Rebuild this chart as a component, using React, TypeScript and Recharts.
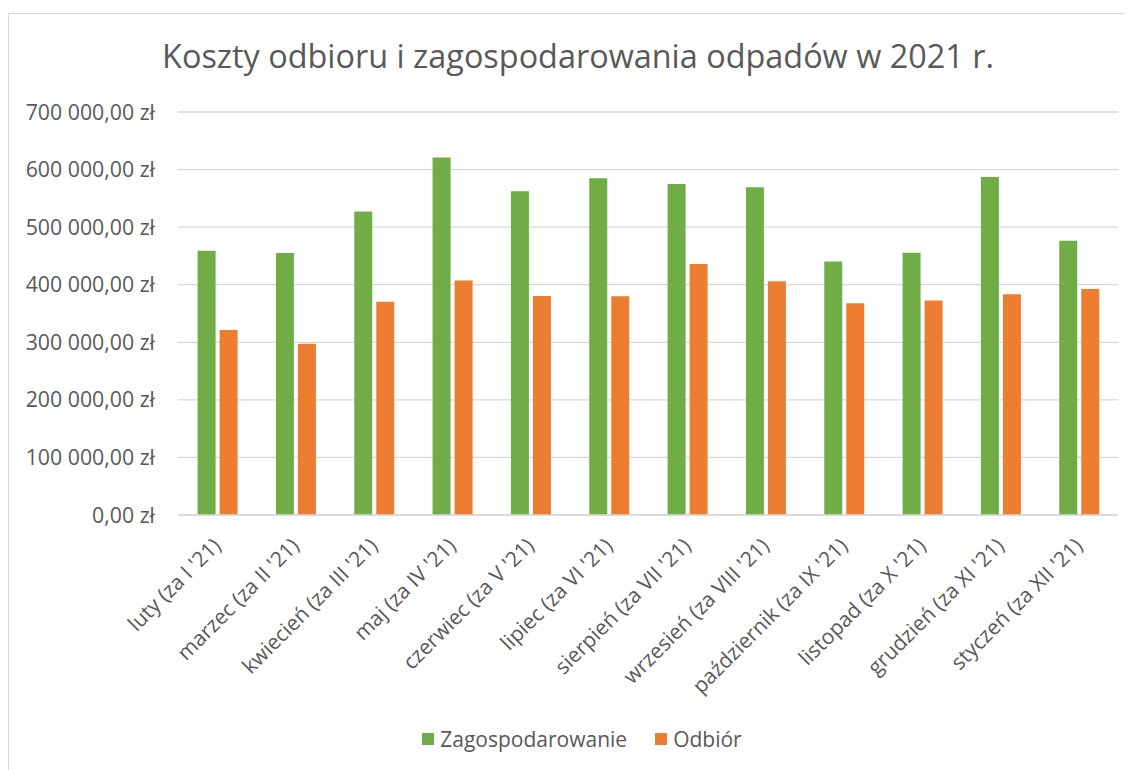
import React from 'react';
import { BarChart, Bar, XAxis, YAxis, CartesianGrid, Legend } from 'recharts';

const months = [
    "luty (za I '21)",
    "marzec (za II '21)",
    "kwiecień (za III '21)",
    "maj (za IV '21)",
    "czerwiec (za V '21)",
    "lipiec (za VI '21)",
    "sierpień (za VII '21)",
    "wrzesień (za VIII '21)",
    "październik (za IX '21)",
    "listopad (za X '21)",
    "grudzień (za XI '21)",
    "styczeń (za XII '21)",
];

const zagospodarowanie = [459000, 455000, 527000, 621000, 562500, 585000, 575000, 569500, 440500, 455500, 587000, 476500];
const odbior = [321500, 297500, 370500, 407500, 380500, 380000, 436000, 406000, 368000, 372500, 383500, 392500];

const yTicks = [0, 100000, 200000, 300000, 400000, 500000, 600000, 700000];

const seriesOrder = ['Zagospodarowanie', 'Odbiór'];

const FONT = '"Open Sans", sans-serif';
const TEXT = '#595959';
const GREEN = '#70AD47';
const ORANGE = '#ED7D31';

const chartData = months.map((m, i) => ({
    name: m,
    zagospodarowanie: zagospodarowanie[i],
    odbior: odbior[i],
}));

const formatZl = (v: number): string =>
    String(v).replace(/\B(?=(\d{3})+(?!\d))/g, ' ') + ',00 zł';

const XTick = (props: any) => {
    const { x, y, payload } = props;
    return (
        <g transform={`translate(${x + 5},${y + 30}) rotate(-45)`}>
            <text x={0} y={0} textAnchor="end" fill={TEXT} fontSize={21} fontFamily={FONT}>
                {payload.value}
            </text>
        </g>
    );
};

const LegendContent = (props: any) => {
    const items = [...(props.payload || [])].sort(
        (a: any, b: any) => seriesOrder.indexOf(a.value) - seriesOrder.indexOf(b.value)
    );
    return (
        <div style={{ display: 'flex', justifyContent: 'center', gap: 28, fontFamily: FONT, fontSize: 21, color: TEXT }}>
            {items.map((item: any) => (
                <div key={item.value} style={{ display: 'flex', alignItems: 'center' }}>
                    <span style={{ display: 'inline-block', width: 12, height: 12, background: item.color, marginRight: 6 }} />
                    <span>{item.value}</span>
                </div>
            ))}
        </div>
    );
};

const App: React.FC = () => {
    return (
        <div style={{ position: 'relative', width: 1132, height: 770, margin: '-8px 0 0 -8px', overflow: 'hidden', background: '#fff' }}>
            <div style={{ position: 'absolute', left: 8, top: 13, width: 1200, height: 800, border: '1px solid #D9D9D9' }} />
            <svg width={1132} height={100} style={{ position: 'absolute', left: 0, top: 0 }}>
                <text x={578} y={68} textAnchor="middle" fill={TEXT} fontSize={32.4} fontFamily={FONT}>
                    Koszty odbioru i zagospodarowania odpadów w 2021 r.
                </text>
            </svg>
            <div style={{ position: 'absolute', left: 0, top: 0 }}>
                <BarChart
                    width={1132}
                    height={770}
                    data={chartData}
                    margin={{ top: 112, right: 14, bottom: 0, left: 0 }}
                    barCategoryGap="25%"
                    barGap={4}
                >
                    <CartesianGrid vertical={false} stroke="#D9D9D9" strokeWidth={1.3} />
                    <XAxis
                        dataKey="name"
                        interval={0}
                        height={255}
                        tick={<XTick />}
                        tickLine={false}
                        tickSize={0}
                        axisLine={{ stroke: '#D9D9D9', strokeWidth: 1.3 }}
                    />
                    <YAxis
                        width={178}
                        domain={[0, 700000]}
                        ticks={yTicks}
                        tickFormatter={formatZl}
                        axisLine={false}
                        tickLine={false}
                        tickSize={0}
                        tickMargin={23}
                        tick={{ fill: TEXT, fontSize: 21.3, fontFamily: FONT }}
                    />
                    <Legend
                        verticalAlign="middle"
                        align="center"
                        layout="horizontal"
                        content={<LegendContent />}
                        wrapperStyle={{ top: 725, left: 16, width: 1132 }}
                    />
                    <Bar dataKey="zagospodarowanie" name="Zagospodarowanie" fill={GREEN} isAnimationActive={false} />
                    <Bar dataKey="odbior" name="Odbiór" fill={ORANGE} isAnimationActive={false} />
                </BarChart>
            </div>
        </div>
    );
};

export default App;
